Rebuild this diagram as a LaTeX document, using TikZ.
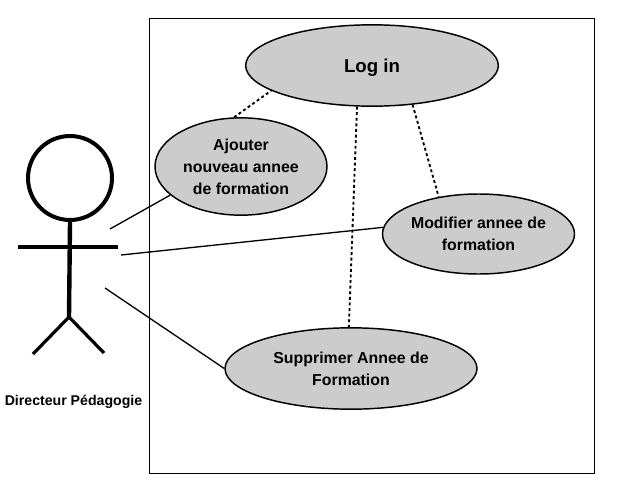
\documentclass[tikz,border=0pt]{standalone}
\usepackage{fontspec}
\setmainfont{Liberation Sans}
\usetikzlibrary{shapes.geometric}
\definecolor{fillgray}{RGB}{204,204,204}
\tikzset{
 usecase/.style={ellipse,draw=black,line width=1.1pt,fill=fillgray,inner sep=0pt,align=center,font=\fontsize{11.9pt}{16.5pt}\selectfont\bfseries},
 solidlink/.style={line width=1pt},
 dotlink/.style={line width=1.4pt,dash pattern=on 2.2pt off 2pt},
}
\begin{document}
\begin{tikzpicture}[x=0.75pt,y=-0.75pt]
\useasboundingbox (0,0) rectangle (636,493);
\fill[white] (0,0) rectangle (636,493);
\node[draw=black,line width=0.7pt,minimum width=333.5pt,minimum height=341pt,inner sep=0pt] (frame) at (372,246) {};
\node[usecase,minimum width=189.5pt,minimum height=61pt,font=\fontsize{14pt}{16pt}\selectfont\bfseries,text height=13pt,text depth=2pt] (login) at (372,65.5) {Log in};
\node[usecase,minimum width=129pt,minimum height=73pt] (ajouter) at (241,166.5) {Ajouter\\nouveau annee\\de formation};
\node[usecase,minimum width=144pt,minimum height=60pt] (modifier) at (478.5,234) {Modifier annee de\\formation};
\node[usecase,minimum width=189pt,minimum height=61pt] (supprimer) at (351,368.5) {Supprimer Annee de\\Formation};
\node[circle,draw=black,line width=3pt,minimum size=63pt,inner sep=0pt] (head) at (70,178) {};
\coordinate (armL) at (18,247);
\coordinate (armR) at (118,247);
\coordinate (hip) at (69,317);
\coordinate (footL) at (33,354);
\coordinate (footR) at (104,353);
\draw[line width=3.3pt] (head.south) -- (hip);
\draw[line width=3pt] (armL) -- (armR);
\draw[line width=2.4pt] (footL) -- (hip) -- (footR);
\node[font=\fontsize{10.6pt}{12pt}\selectfont\bfseries] (actor) at (73.5,402) {Directeur Pédagogie};
\coordinate (a1) at (110,229);
\coordinate (a2) at (121,255);
\coordinate (a3) at (105,288);
\draw[solidlink] (a1) -- (ajouter.202);
\draw[solidlink] (a2) -- (modifier.176);
\draw[solidlink] (a3) -- (supprimer.180);
\draw[dotlink] (ajouter.98) -- (login.194);
\draw[dotlink] (login.-44) -- (modifier.137.5);
\draw[dotlink] (login.250) -- (supprimer.93);
\end{tikzpicture}
\end{document}
